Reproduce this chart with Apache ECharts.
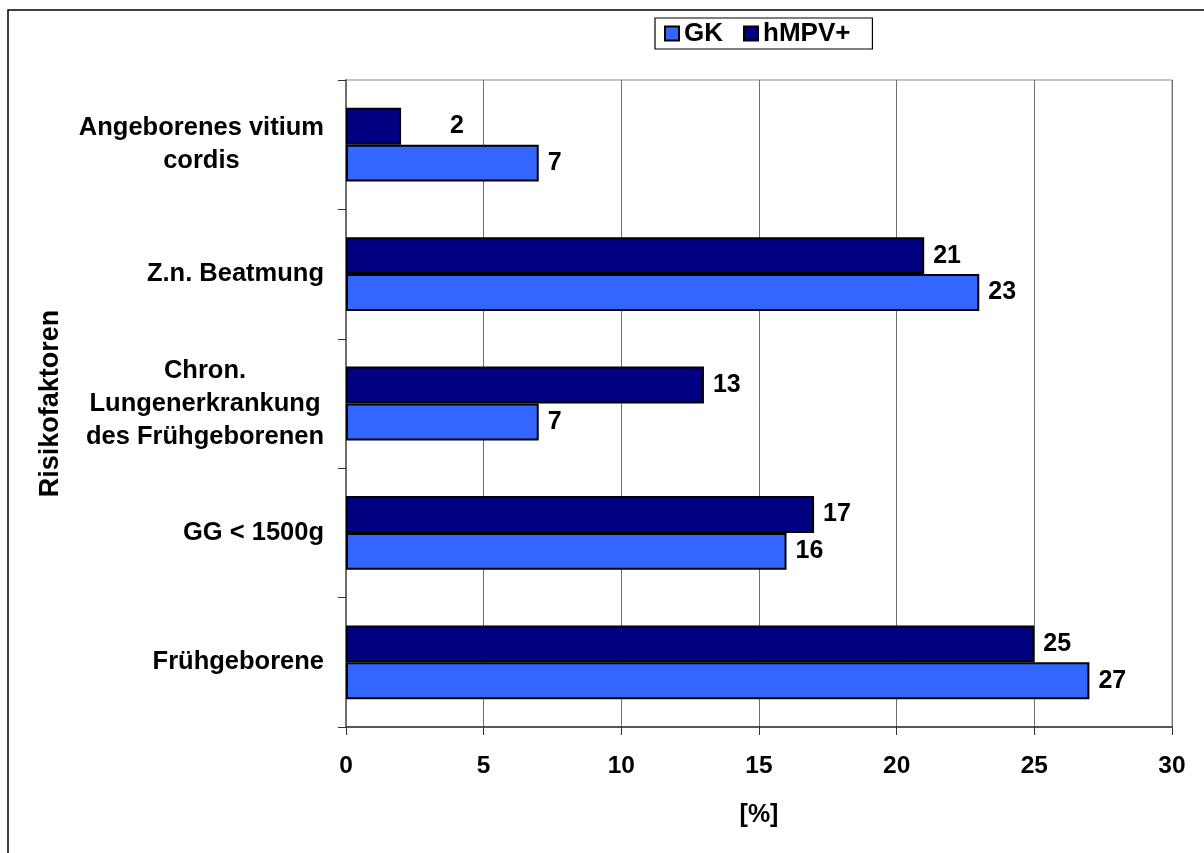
<!DOCTYPE html>
<html>
<head>
<meta charset="utf-8">
<script src="https://cdn.jsdelivr.net/npm/echarts@6/dist/echarts.min.js"></script>
<style>
  html, body { margin: 0; padding: 0; background: #fff; }
  #chart { width: 1204px; height: 853px; }
</style>
</head>
<body>
<div id="chart"></div>
<script>
// Risk factors, listed from the bottom of the axis to the top
const categories = [
  'Frühgeborene',
  'GG < 1500g',
  'Chron.\nLungenerkrankung\ndes Frühgeborenen',
  'Z.n. Beatmung',
  'Angeborenes vitium\ncordis'
];
const seriesNames = ['GK', 'hMPV+'];
const gkValues = [27, 16, 7, 23, 7];
const hmpvValues = [25, 17, 13, 21, 2];
const xTicks = [0, 5, 10, 15, 20, 25, 30];

const FONT = '"Liberation Sans", Arial, sans-serif';
const chart = echarts.init(document.getElementById('chart'), null, { renderer: 'canvas' });

const labelStyle = {
  show: true,
  position: 'right',
  distance: 9,
  color: '#000',
  fontFamily: FONT,
  fontWeight: 'bold',
  fontSize: 25
};

// the small "2" label sits further to the right of its short bar
const hmpvData = hmpvValues.map((v, i) =>
  i === 4 ? { value: v, label: { offset: [40, 0] } } : v
);

chart.setOption({
  backgroundColor: '#fff',
  animation: false,
  graphic: [{
    type: 'rect',
    shape: { x: 8, y: 10, width: 1300, height: 1000 },
    style: { fill: 'none', stroke: '#000', lineWidth: 1.5 },
    silent: true,
    z: -1
  }],
  legend: {
    data: seriesNames,
    left: 655,
    top: 18,
    padding: [2, 22, 2, 9],
    itemGap: 20,
    itemWidth: 14,
    itemHeight: 14,
    icon: 'rect',
    borderColor: '#000',
    borderWidth: 1.2,
    backgroundColor: '#fff',
    textStyle: { color: '#000', fontFamily: FONT, fontWeight: 'bold', fontSize: 26, lineHeight: 27 }
  },
  grid: {
    left: 346,
    right: 32,
    top: 80,
    bottom: 126,
    show: true,
    borderColor: '#8c8c8c',
    borderWidth: 1,
    containLabel: false
  },
  xAxis: {
    type: 'value',
    min: xTicks[0],
    max: xTicks[xTicks.length - 1],
    interval: xTicks[1] - xTicks[0],
    name: '[%]',
    nameLocation: 'middle',
    nameGap: 76,
    nameTextStyle: { color: '#000', fontFamily: FONT, fontWeight: 'bold', fontSize: 25 },
    axisLine: { show: true, lineStyle: { color: '#333', width: 1.5 } },
    axisTick: { show: true, length: 8, lineStyle: { color: '#333', width: 1 } },
    axisLabel: { color: '#000', fontFamily: FONT, fontWeight: 'bold', fontSize: 24.5, margin: 27 },
    splitLine: { show: true, lineStyle: { color: '#6e6e6e', width: 1 } }
  },
  yAxis: {
    type: 'category',
    data: categories,
    name: 'Risikofaktoren',
    nameLocation: 'middle',
    nameRotate: 90,
    nameGap: 282,
    nameTextStyle: { color: '#000', fontFamily: FONT, fontWeight: 'bold', fontSize: 27 },
    axisLine: { show: true, lineStyle: { color: '#6e6e6e', width: 2 } },
    axisTick: { show: true, length: 8, interval: 0, lineStyle: { color: '#333', width: 1 } },
    axisLabel: {
      interval: 0,
      margin: 22,
      align: 'right',
      formatter: (v) => v.split('\n').map((l) => '{c|' + l + '}').join('\n'),
      rich: {
        c: {
          align: 'center',
          color: '#000',
          fontFamily: FONT,
          fontWeight: 'bold',
          fontSize: 25.5,
          lineHeight: 33
        }
      }
    },
    splitLine: { show: false }
  },
  // hMPV+ is listed first so its bar sits above the GK bar in each group
  series: [
    {
      name: seriesNames[1],
      type: 'bar',
      data: hmpvData,
      barCategoryGap: '43%',
      barGap: '0%',
      itemStyle: { color: '#000080', borderColor: '#000', borderWidth: 2 },
      label: labelStyle
    },
    {
      name: seriesNames[0],
      type: 'bar',
      data: gkValues,
      barCategoryGap: '43%',
      barGap: '0%',
      itemStyle: { color: '#3366ff', borderColor: '#000', borderWidth: 2 },
      label: labelStyle
    }
  ]
});
</script>
</body>
</html>
